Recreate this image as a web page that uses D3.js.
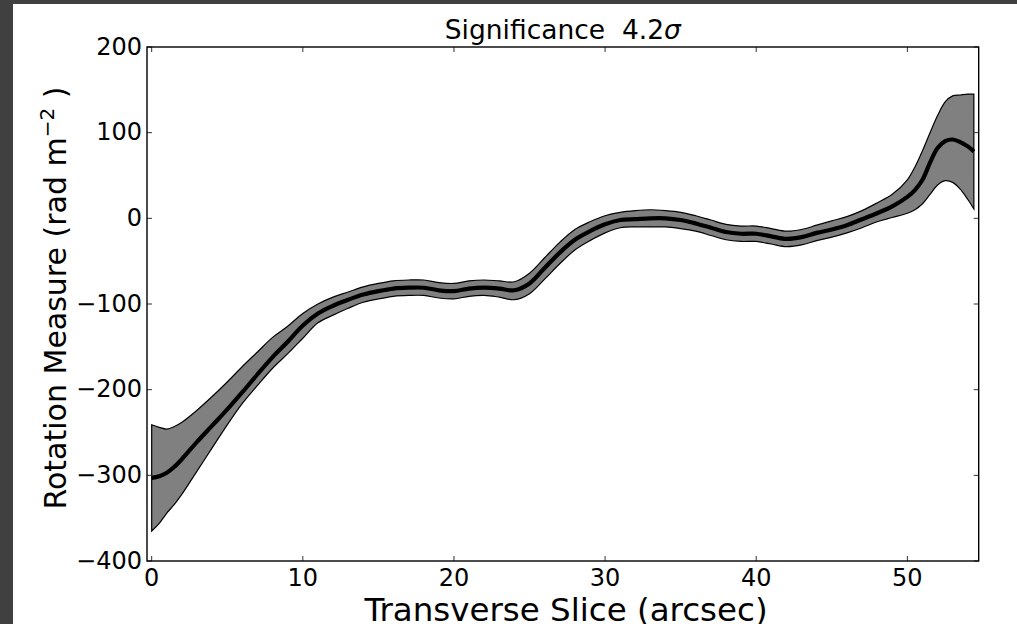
<!DOCTYPE html>
<html>
<head>
<meta charset="utf-8">
<script src="https://cdn.jsdelivr.net/npm/d3@7"></script>
<style>
  html, body { margin: 0; padding: 0; background: #404040; }
  svg { display: block; }
  text { font-family: "DejaVu Sans", sans-serif; fill: #000; }
</style>
</head>
<body>
<svg id="chart" width="1017" height="624"></svg>
<script>
// ---- data ----
const sliceX = [0, 0.5, 1, 1.5, 2, 3, 4, 5, 6, 7, 8, 9, 10, 11, 12, 13, 14, 15, 16, 17, 18, 19, 20,
  21, 22, 23, 24, 25, 26, 27, 28, 29, 30, 31, 32, 33, 34, 35, 36, 37, 38, 39, 40, 41, 42, 43, 44,
  45, 46, 47, 48, 49, 50, 50.5, 51, 51.5, 52, 52.5, 53, 53.5, 54, 54.4];
const rmCenter = [-303, -301, -297, -290, -281, -261, -242, -223, -203, -182, -162, -144, -125, -111,
  -102, -95, -89, -85, -82, -81, -81, -84, -85, -82, -81, -82, -84, -76, -58, -40, -25, -15, -7, -2,
  -1, 0, 0, -2, -6, -11, -16, -18, -18, -21, -24, -22, -17, -13, -8, -1, 6, 14, 25, 33, 45, 65, 82,
  90, 92, 89, 84, 78];
const rmUpper = [-241, -244, -246, -243, -238, -224, -208, -191, -173, -156, -139, -126, -111, -100,
  -92, -86, -80, -76, -73, -72, -72, -75, -76, -73, -72, -73, -74, -64, -46, -28, -13, -4, 3, 7, 9,
  10, 9, 7, 3, -2, -7, -9, -9, -12, -15, -13, -8, -3, 2, 9, 18, 28, 45, 60, 79, 100, 120, 136, 143,
  144, 145, 145];
const rmLower = [-365, -356, -344, -334, -322, -295, -268, -241, -216, -195, -175, -158, -140, -122,
  -113, -105, -98, -94, -91, -90, -90, -93, -94, -91, -90, -92, -95, -88, -71, -53, -37, -26, -17,
  -11, -10, -10, -10, -12, -15, -20, -25, -27, -27, -30, -33, -31, -26, -22, -17, -11, -4, 1, 6, 10,
  17, 28, 39, 44, 42, 34, 22, 11];
const xTicks = [0, 10, 20, 30, 40, 50];
const yTicks = [-400, -300, -200, -100, 0, 100, 200];
const titleText = "Significance  4.2";
const xLabel = "Transverse Slice (arcsec)";

// ---- layout ----
const W = 1017, H = 624;
const mLeft = 147, mRight = 978.7, mTop = 47, mBottom = 561;

const svg = d3.select("#chart");
svg.append("rect").attr("x", 13).attr("y", 4).attr("width", W - 13).attr("height", H - 4).attr("fill", "#fff");

const x = d3.scaleLinear().domain([-0.31, 54.72]).range([mLeft, mRight]);
const y = d3.scaleLinear().domain([-400, 200]).range([mBottom, mTop]);

const data = sliceX.map((v, i) => ({x: v, c: rmCenter[i], u: rmUpper[i], l: rmLower[i]}));

// band
const area = d3.area().x(d => x(d.x)).y0(d => y(d.l)).y1(d => y(d.u)).curve(d3.curveCatmullRom.alpha(0.5));
svg.append("path").datum(data).attr("d", area)
  .attr("fill", "#808080").attr("stroke", "#000").attr("stroke-width", 1.2);

// center line
const line = d3.line().x(d => x(d.x)).y(d => y(d.c)).curve(d3.curveCatmullRom.alpha(0.5));
svg.append("path").datum(data).attr("d", line)
  .attr("fill", "none").attr("stroke", "#000").attr("stroke-width", 4.2).attr("stroke-linecap", "butt");

// ticks (inward, all four sides)
const tl = 5;
const g = svg.append("g").attr("stroke", "#333").attr("stroke-width", 1);
xTicks.forEach(t => {
  const px = x(t);
  g.append("line").attr("x1", px).attr("x2", px).attr("y1", mBottom).attr("y2", mBottom - tl);
  g.append("line").attr("x1", px).attr("x2", px).attr("y1", mTop).attr("y2", mTop + tl);
});
yTicks.forEach(t => {
  const py = y(t);
  g.append("line").attr("x1", mLeft).attr("x2", mLeft + tl).attr("y1", py).attr("y2", py);
  g.append("line").attr("x1", mRight).attr("x2", mRight - tl).attr("y1", py).attr("y2", py);
});

// frame
svg.append("rect").attr("x", mLeft).attr("y", mTop).attr("width", mRight - mLeft).attr("height", mBottom - mTop)
  .attr("fill", "none").attr("stroke", "#000").attr("stroke-width", 1.4);

// tick labels
const fmt = v => (v < 0 ? "\u2212" + Math.abs(v) : String(v));
xTicks.forEach(t => {
  svg.append("text").attr("x", x(t)).attr("y", 586).attr("text-anchor", "middle")
    .attr("font-size", 24).text(fmt(t));
});
yTicks.forEach(t => {
  svg.append("text").attr("x", 142).attr("y", y(t) + 7.5).attr("text-anchor", "end")
    .attr("font-size", 24).text(fmt(t));
});

// title
const tt = svg.append("text").attr("x", (mLeft + mRight) / 2).attr("y", 39).attr("text-anchor", "middle")
  .attr("font-size", 26.5).attr("xml:space", "preserve").style("white-space", "pre");
tt.append("tspan").text(titleText);
tt.append("tspan").attr("font-style", "italic").text("\u03c3");

// x label
svg.append("text").attr("x", 566).attr("y", 621).attr("text-anchor", "middle")
  .attr("font-size", 32.5).text(xLabel);

// y label
const yl = svg.append("text").attr("transform", `translate(66,298) rotate(-90)`)
  .attr("text-anchor", "middle").attr("font-size", 30);
yl.append("tspan").text("Rotation Measure (rad m");
yl.append("tspan").attr("font-size", 20).attr("dy", -12).text("\u22122");
yl.append("tspan").attr("dy", 12).text(" )");
</script>
</body>
</html>
